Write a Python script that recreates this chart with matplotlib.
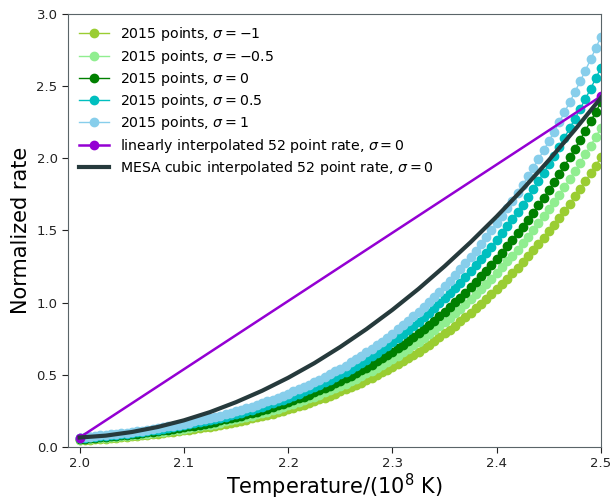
import matplotlib
matplotlib.use("Agg")
import matplotlib.pyplot as plt

temperature = [
    2.000, 2.005, 2.010, 2.015, 2.020, 2.025, 2.030, 2.035, 2.040, 2.045,
    2.050, 2.055, 2.060, 2.065, 2.070, 2.075, 2.080, 2.085, 2.090, 2.095,
    2.100, 2.105, 2.110, 2.115, 2.120, 2.125, 2.130, 2.135, 2.140, 2.145,
    2.150, 2.155, 2.160, 2.165, 2.170, 2.175, 2.180, 2.185, 2.190, 2.195,
    2.200, 2.205, 2.210, 2.215, 2.220, 2.225, 2.230, 2.235, 2.240, 2.245,
    2.250, 2.255, 2.260, 2.265, 2.270, 2.275, 2.280, 2.285, 2.290, 2.295,
    2.300, 2.305, 2.310, 2.315, 2.320, 2.325, 2.330, 2.335, 2.340, 2.345,
    2.350, 2.355, 2.360, 2.365, 2.370, 2.375, 2.380, 2.385, 2.390, 2.395,
    2.400, 2.405, 2.410, 2.415, 2.420, 2.425, 2.430, 2.435, 2.440, 2.445,
    2.450, 2.455, 2.460, 2.465, 2.470, 2.475, 2.480, 2.485, 2.490, 2.495,
    2.500,
]

rate_sigma_m1 = [
    0.046, 0.048, 0.051, 0.053, 0.056, 0.058, 0.061, 0.064, 0.067, 0.070,
    0.073, 0.077, 0.080, 0.084, 0.088, 0.092, 0.096, 0.100, 0.104, 0.109,
    0.114, 0.119, 0.124, 0.130, 0.135, 0.141, 0.147, 0.153, 0.160, 0.167,
    0.174, 0.181, 0.189, 0.197, 0.205, 0.213, 0.222, 0.231, 0.241, 0.251,
    0.261, 0.271, 0.282, 0.293, 0.305, 0.317, 0.329, 0.342, 0.356, 0.369,
    0.384, 0.398, 0.413, 0.429, 0.445, 0.462, 0.479, 0.497, 0.516, 0.535,
    0.554, 0.574, 0.595, 0.617, 0.639, 0.661, 0.685, 0.709, 0.734, 0.759,
    0.786, 0.813, 0.841, 0.870, 0.899, 0.929, 0.961, 0.993, 1.026, 1.059,
    1.094, 1.130, 1.166, 1.204, 1.243, 1.282, 1.323, 1.364, 1.407, 1.451,
    1.496, 1.541, 1.589, 1.637, 1.686, 1.736, 1.788, 1.841, 1.895, 1.950,
    2.007,
]

rate_sigma_m05 = [
    0.051, 0.053, 0.056, 0.059, 0.061, 0.064, 0.067, 0.070, 0.074, 0.077,
    0.081, 0.084, 0.088, 0.092, 0.096, 0.101, 0.105, 0.110, 0.115, 0.120,
    0.125, 0.131, 0.137, 0.143, 0.149, 0.155, 0.162, 0.169, 0.176, 0.184,
    0.191, 0.200, 0.208, 0.217, 0.226, 0.235, 0.245, 0.255, 0.265, 0.276,
    0.287, 0.299, 0.311, 0.323, 0.336, 0.349, 0.363, 0.377, 0.392, 0.407,
    0.422, 0.439, 0.455, 0.473, 0.490, 0.509, 0.528, 0.547, 0.568, 0.589,
    0.610, 0.632, 0.655, 0.679, 0.703, 0.728, 0.754, 0.781, 0.808, 0.836,
    0.865, 0.895, 0.926, 0.958, 0.990, 1.023, 1.058, 1.093, 1.129, 1.167,
    1.205, 1.244, 1.285, 1.326, 1.368, 1.412, 1.457, 1.502, 1.549, 1.598,
    1.647, 1.697, 1.749, 1.802, 1.857, 1.912, 1.969, 2.027, 2.087, 2.148,
    2.210,
]

rate_sigma_0 = [
    0.055, 0.058, 0.060, 0.063, 0.066, 0.069, 0.073, 0.076, 0.080, 0.083,
    0.087, 0.091, 0.095, 0.100, 0.104, 0.109, 0.114, 0.119, 0.124, 0.130,
    0.136, 0.142, 0.148, 0.154, 0.161, 0.168, 0.175, 0.183, 0.190, 0.199,
    0.207, 0.216, 0.225, 0.234, 0.244, 0.254, 0.264, 0.275, 0.287, 0.298,
    0.310, 0.323, 0.336, 0.349, 0.363, 0.377, 0.392, 0.407, 0.423, 0.440,
    0.457, 0.474, 0.492, 0.511, 0.530, 0.550, 0.571, 0.592, 0.614, 0.636,
    0.660, 0.684, 0.708, 0.734, 0.760, 0.787, 0.815, 0.844, 0.874, 0.904,
    0.936, 0.968, 1.001, 1.035, 1.070, 1.106, 1.144, 1.182, 1.221, 1.261,
    1.303, 1.345, 1.389, 1.433, 1.479, 1.526, 1.575, 1.624, 1.675, 1.727,
    1.780, 1.835, 1.891, 1.948, 2.007, 2.067, 2.129, 2.192, 2.256, 2.322,
    2.389,
]

rate_sigma_p05 = [
    0.061, 0.063, 0.066, 0.070, 0.073, 0.076, 0.080, 0.084, 0.088, 0.092,
    0.096, 0.100, 0.105, 0.110, 0.115, 0.120, 0.125, 0.131, 0.137, 0.143,
    0.149, 0.156, 0.163, 0.170, 0.177, 0.185, 0.193, 0.201, 0.210, 0.218,
    0.228, 0.237, 0.247, 0.258, 0.268, 0.279, 0.291, 0.303, 0.315, 0.328,
    0.341, 0.355, 0.369, 0.384, 0.399, 0.415, 0.431, 0.448, 0.466, 0.484,
    0.502, 0.522, 0.541, 0.562, 0.583, 0.605, 0.628, 0.651, 0.675, 0.700,
    0.726, 0.752, 0.779, 0.807, 0.836, 0.866, 0.897, 0.928, 0.961, 0.995,
    1.029, 1.065, 1.101, 1.139, 1.177, 1.217, 1.258, 1.300, 1.343, 1.387,
    1.433, 1.480, 1.528, 1.577, 1.627, 1.679, 1.732, 1.787, 1.843, 1.900,
    1.958, 2.019, 2.080, 2.143, 2.208, 2.274, 2.342, 2.411, 2.482, 2.554,
    2.628,
]

rate_sigma_p1 = [
    0.065, 0.069, 0.072, 0.075, 0.079, 0.083, 0.086, 0.091, 0.095, 0.099,
    0.104, 0.109, 0.113, 0.119, 0.124, 0.130, 0.136, 0.142, 0.148, 0.154,
    0.161, 0.168, 0.176, 0.184, 0.192, 0.200, 0.208, 0.217, 0.227, 0.236,
    0.246, 0.257, 0.268, 0.279, 0.290, 0.302, 0.315, 0.328, 0.341, 0.355,
    0.369, 0.384, 0.399, 0.415, 0.432, 0.449, 0.467, 0.485, 0.504, 0.523,
    0.543, 0.564, 0.586, 0.608, 0.631, 0.655, 0.679, 0.704, 0.730, 0.757,
    0.785, 0.814, 0.843, 0.873, 0.905, 0.937, 0.970, 1.004, 1.040, 1.076,
    1.113, 1.152, 1.191, 1.232, 1.274, 1.317, 1.361, 1.406, 1.453, 1.501,
    1.550, 1.601, 1.653, 1.706, 1.760, 1.816, 1.874, 1.933, 1.993, 2.055,
    2.119, 2.184, 2.250, 2.319, 2.389, 2.460, 2.533, 2.608, 2.685, 2.763,
    2.843,
]

linear_temperature = [2.0, 2.5]
linear_rate = [0.065, 2.43]

mesa_temperature = [
    2.000, 2.025, 2.050, 2.075, 2.100, 2.125, 2.150, 2.175, 2.200, 2.225,
    2.250, 2.275, 2.300, 2.325, 2.350, 2.375, 2.400, 2.425, 2.450, 2.475,
    2.500,
]
mesa_rate = [
    0.065, 0.078, 0.103, 0.138, 0.184, 0.241, 0.310, 0.389, 0.479, 0.580,
    0.693, 0.816, 0.950, 1.095, 1.252, 1.419, 1.597, 1.786, 1.987, 2.198,
    2.420,
]

series = [
    (rate_sigma_m1, "yellowgreen", r"2015 points, $\sigma = -1$"),
    (rate_sigma_m05, "lightgreen", r"2015 points, $\sigma = -0.5$"),
    (rate_sigma_0, "green", r"2015 points, $\sigma = 0$"),
    (rate_sigma_p05, "c", r"2015 points, $\sigma = 0.5$"),
    (rate_sigma_p1, "skyblue", r"2015 points, $\sigma = 1$"),
]

fig = plt.figure(figsize=(6.12, 5.01), dpi=100)
ax = fig.add_axes([0.111, 0.108, 0.871, 0.864])

for vals, col, lab in series:
    ax.plot(temperature, vals, "o-", color=col, markersize=6.0, linewidth=1.0,
            label=lab)

ax.plot(linear_temperature, linear_rate, "o-", color="darkviolet",
        markersize=6.0, linewidth=1.8,
        label=r"linearly interpolated 52 point rate, $\sigma = 0$")
ax.plot(mesa_temperature, mesa_rate, "-", color="#263a3c", linewidth=3.0,
        label=r"MESA cubic interpolated 52 point rate, $\sigma = 0$")

ax.set_xlim(1.9888, 2.5)
ax.set_ylim(0.0, 3.0)
ax.set_xticks([2.0, 2.1, 2.2, 2.3, 2.4, 2.5])
ax.set_yticks([0.0, 0.5, 1.0, 1.5, 2.0, 2.5, 3.0])
ax.tick_params(labelsize=9.5, colors="#222222", length=4)
for sp in ax.spines.values():
    sp.set_color("#5a6468")
ax.set_xlabel(r"Temperature/(10$^8$ K)", fontsize=15, labelpad=1)
ax.set_ylabel("Normalized rate", fontsize=15)

ax.legend(loc="upper left", frameon=False, fontsize=10.2, numpoints=1,
          handlelength=2.1, labelspacing=0.3, borderaxespad=0.4)

fig.savefig("out.png", dpi=100)
